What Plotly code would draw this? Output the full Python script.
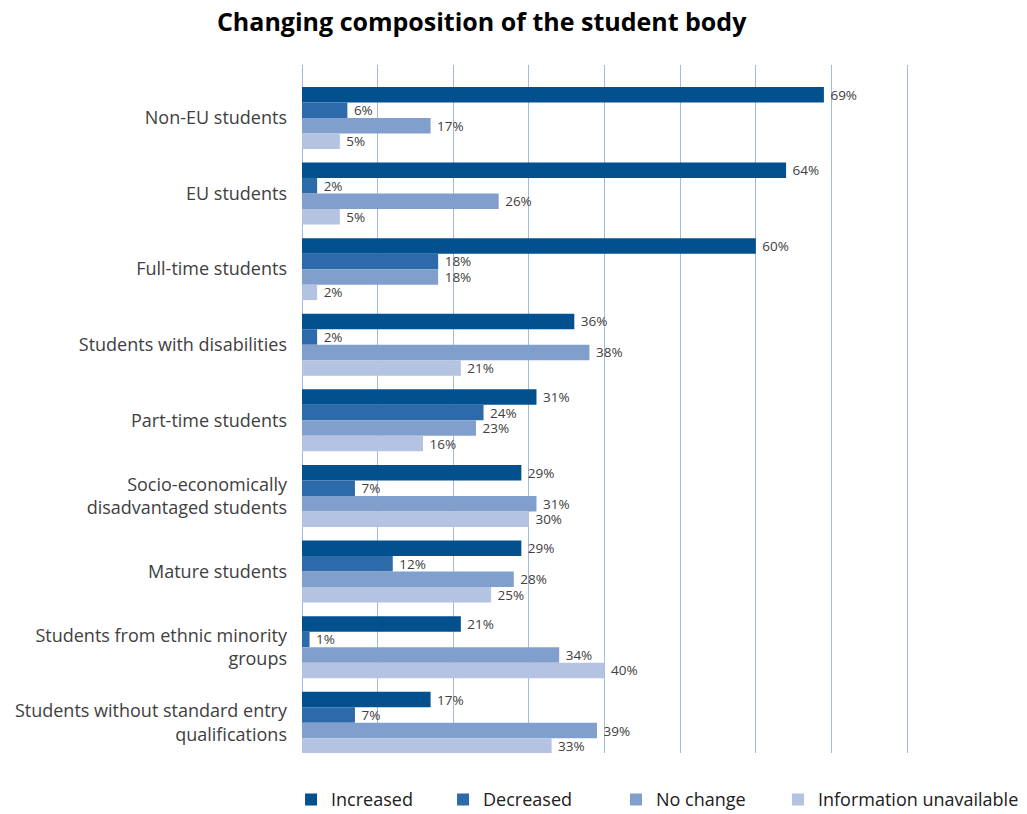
import plotly.graph_objects as go

categories = [
    "Non-EU students",
    "EU students",
    "Full-time students",
    "Students with disabilities",
    "Part-time students",
    "Socio-economically<br>disadvantaged students",
    "Mature students",
    "Students from ethnic minority<br>groups",
    "Students without standard entry<br>qualifications",
]

increased = [69, 64, 60, 36, 31, 29, 29, 21, 17]
decreased = [6, 2, 18, 2, 24, 7, 12, 1, 7]
no_change = [17, 26, 18, 38, 23, 31, 28, 34, 39]
info_unavailable = [5, 5, 2, 21, 16, 30, 25, 40, 33]

series = [
    ("Increased", increased, "#03508f"),
    ("Decreased", decreased, "#2d6aaa"),
    ("No change", no_change, "#819fcc"),
    ("Information unavailable", info_unavailable, "#b3c3e1"),
]

# each series gets its own one-entry legend so the entries sit in one row
legend_ids = ["legend", "legend2", "legend3", "legend4"]
legend_x = [0.2834, 0.4314, 0.5998, 0.7575]

fig = go.Figure()
for (name, values, color), lid in zip(series, legend_ids):
    fig.add_trace(go.Bar(
        name=name,
        y=categories,
        x=values,
        orientation="h",
        marker=dict(color=color, line=dict(width=0)),
        texttemplate=" %{x}%",
        textposition="outside",
        constraintext="none",
        textfont=dict(size=13.5, color="#404040", family="Open Sans"),
        cliponaxis=False,
        legend=lid,
        showlegend=True,
    ))

legend_style = dict(
    orientation="h",
    xref="container", xanchor="left",
    yref="paper", y=-0.041, yanchor="top",
    font=dict(size=18, color="#202020", family="Open Sans"),
    itemwidth=30,
    bgcolor="rgba(0,0,0,0)",
    visible=True,
)

fig.update_layout(
    width=1027,
    height=814,
    barmode="group",
    bargap=0.18,
    bargroupgap=0,
    plot_bgcolor="white",
    paper_bgcolor="white",
    margin=dict(l=302, r=118, t=65, b=61, autoexpand=False),
    title=dict(
        text="<b>Changing composition of the student body</b>",
        x=0.469, xanchor="center", y=0.973, yanchor="middle",
        font=dict(size=25, color="black", family="Open Sans"),
    ),
    font=dict(family="Open Sans", color="#404040"),
    xaxis=dict(
        range=[0, 80.25],
        dtick=10,
        showgrid=True,
        gridcolor="#a6b9dd",
        gridwidth=1,
        showticklabels=False,
        zeroline=True,
        zerolinecolor="#a6b9dd",
        zerolinewidth=1,
        showline=False,
        fixedrange=True,
    ),
    yaxis=dict(
        range=[8.4, -0.7],
        showgrid=False,
        tickfont=dict(size=18, color="#404040", family="Open Sans"),
        ticks="",
        ticklabelstandoff=14,
        showline=False,
    ),
)

for lid, lx in zip(legend_ids, legend_x):
    fig.update_layout({lid: dict(legend_style, x=lx)})

fig.write_html("out.html")
